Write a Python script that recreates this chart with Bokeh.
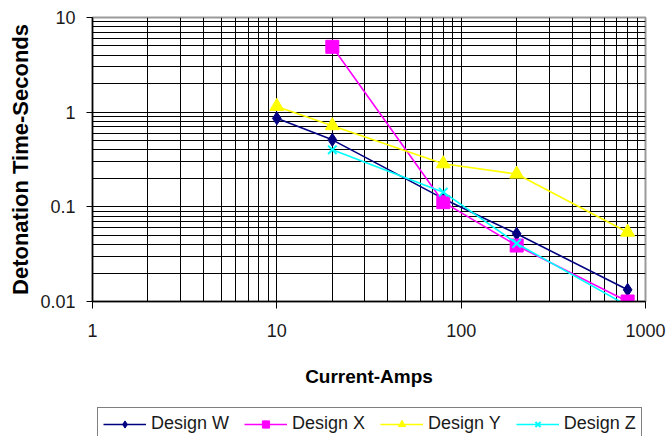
from bokeh.plotting import figure
from bokeh.layouts import column
from bokeh.models import FixedTicker, CustomJSTickFormatter, Legend, LegendItem, Range1d
from bokeh.embed import file_html
from bokeh.resources import INLINE

# ---- data ----
current_w = [10, 20, 80, 200, 800]
time_w = [0.86, 0.51, 0.122, 0.052, 0.0133]

current_x = [20, 80, 200, 800]
time_x = [4.9, 0.112, 0.039, 0.0100]

current_y = [10, 20, 80, 200, 800]
time_y = [1.15, 0.72, 0.285, 0.222, 0.054]

current_z = [20, 80, 200, 800]
time_z = [0.40, 0.143, 0.041, 0.009]

x_major = [1, 10, 100, 1000]
y_major = [0.01, 0.1, 1, 10]

series_names = ["Design W", "Design X", "Design Y", "Design Z"]
series_colors = ["#000080", "#FF00FF", "#FFFF00", "#00FFFF"]
series_markers = ["diamond", "square", "triangle", "x"]
marker_sizes = [13, 13, 14, 12]

# minor ticks: 2..9 within each decade
x_minor = [m * t for t in x_major[:-1] for m in range(2, 10)]
y_minor = [m * t for t in y_major[:-1] for m in range(2, 10)]

FONT = "Liberation Sans"

p = figure(width=667, height=406,
           x_axis_type="log", y_axis_type="log",
           x_range=Range1d(x_major[0], x_major[-1]),
           y_range=Range1d(y_major[0], y_major[-1]),
           output_backend="svg", toolbar_location=None,
           min_border_left=92, min_border_right=22,
           min_border_top=17, min_border_bottom=105)

p.background_fill_color = "white"
p.border_fill_color = "white"
p.outline_line_color = "#9a9a9a"
p.outline_line_width = 2

fmt = CustomJSTickFormatter(code="return tick.toString();")

p.xaxis.ticker = FixedTicker(ticks=x_major, minor_ticks=x_minor)
p.yaxis.ticker = FixedTicker(ticks=y_major, minor_ticks=y_minor)
p.xaxis.formatter = fmt
p.yaxis.formatter = fmt

for g in (p.xgrid, p.ygrid):
    g.grid_line_color = "#000000"
    g.grid_line_width = 1
    g.minor_grid_line_color = "#000000"
    g.minor_grid_line_width = 1

for ax in (p.xaxis, p.yaxis):
    ax.axis_line_color = "#000000"
    ax.axis_line_width = 1.5
    ax.major_tick_line_color = "#000000"
    ax.major_tick_in = 0
    ax.minor_tick_in = 0
    ax.minor_tick_out = 0
    ax.major_label_text_font = FONT
    ax.major_label_text_font_size = "18px"
    ax.major_label_text_color = "#1a1a1a"
    ax.axis_label_text_font = FONT
    ax.axis_label_text_font_style = "bold"
    ax.axis_label_text_color = "#000000"

p.xaxis.major_tick_out = 7
p.yaxis.major_tick_out = 6
p.xaxis.major_label_standoff = 15
p.yaxis.major_label_standoff = 11
p.xaxis.axis_label = "Current-Amps"
p.yaxis.axis_label = "Detonation Time-Seconds"
p.xaxis.axis_label_text_font_size = "19px"
p.yaxis.axis_label_text_font_size = "22px"
p.xaxis.axis_label_standoff = 26
p.yaxis.axis_label_standoff = 4

series = [(current_w, time_w), (current_x, time_x),
          (current_y, time_y), (current_z, time_z)]

for (xs, ys), col, mk, ms in zip(series, series_colors, series_markers, marker_sizes):
    p.line(xs, ys, line_color=col, line_width=1.6)
    p.scatter(xs, ys, marker=mk, size=ms, fill_color=col, line_color=col,
              line_width=2 if mk == "x" else 1)

# ---- legend strip (separate figure below the chart) ----
q = figure(width=667, height=30, output_backend="svg", toolbar_location=None,
           x_range=Range1d(-2, -1), y_range=Range1d(-2, -1),
           x_axis_location=None, y_axis_location=None,
           min_border_left=92, min_border_right=22,
           min_border_top=0, min_border_bottom=0)
q.grid.visible = False
q.outline_line_color = None
q.background_fill_color = "white"
q.border_fill_color = "white"

items = []
for (xs, ys), col, mk, ms, name in zip(series, series_colors, series_markers,
                                       marker_sizes, series_names):
    rl = q.line(xs, ys, line_color=col, line_width=1.6)
    rs = q.scatter(xs, ys, marker=mk, size=ms - 3, fill_color=col, line_color=col,
                   line_width=2 if mk == "x" else 1)
    items.append(LegendItem(label=name, renderers=[rl, rs]))

legend = Legend(items=items, orientation="horizontal", location=(5, -4),
                border_line_color="#000000", border_line_width=1.5,
                background_fill_color="white", background_fill_alpha=1,
                label_text_font=FONT, label_text_font_size="18px",
                label_text_color="#1a1a1a",
                glyph_width=43, glyph_height=18, label_standoff=5,
                spacing=15, padding=5, margin=0)
q.add_layout(legend, "center")

layout = column(p, q, spacing=0)
open("out.html", "w").write(file_html(layout, INLINE))
